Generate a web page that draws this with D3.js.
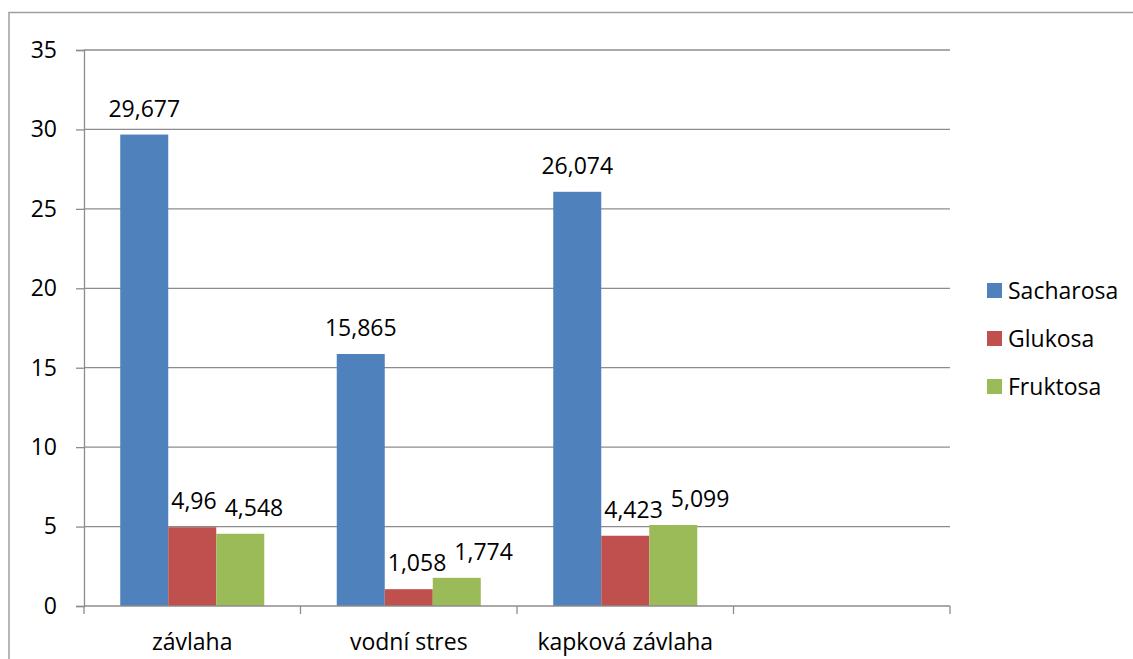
<!DOCTYPE html>
<html>
<head>
<meta charset="utf-8">
<script src="https://cdn.jsdelivr.net/npm/d3@7"></script>
<style>
  body { margin: 0; background: #fff; }
  svg text { font-family: "Open Sans", "Noto Sans", sans-serif; fill: #000; }
</style>
</head>
<body>
<svg id="chart" width="1133" height="659"></svg>
<script>
var categories = ["závlaha", "vodní stres", "kapková závlaha", ""];
var seriesNames = ["Sacharosa", "Glukosa", "Fruktosa"];
var sacharosa = [29.677, 15.865, 26.074];
var glukosa = [4.96, 1.058, 4.423];
var fruktosa = [4.548, 1.774, 5.099];
var yTicks = [0, 5, 10, 15, 20, 25, 30, 35];
var colors = ["#4F81BD", "#C0504D", "#9BBB59"];

var seriesValues = [sacharosa, glukosa, fruktosa];
var fontSize = "23px";
var svg = d3.select("#chart");

// outer chart frame (runs off the page on the right and bottom)
svg.append("rect")
    .attr("x", 9)
    .attr("y", 12.5)
    .attr("width", 1200)
    .attr("height", 800)
    .attr("fill", "none")
    .attr("stroke", "#a0a0a0")
    .attr("stroke-width", 1.5);

var x = d3.scaleBand()
    .domain(categories)
    .range([84, 950])
    .padding(0);

var x1 = d3.scaleBand()
    .domain(seriesNames)
    .range([0, x.bandwidth()])
    .paddingInner(0)
    .paddingOuter(0.755);

var y = d3.scaleLinear()
    .domain([0, 35])
    .range([606, 50]);

// gridlines
svg.append("g")
    .selectAll("line")
    .data(yTicks.slice(1))
    .enter()
    .append("line")
    .attr("x1", 84)
    .attr("x2", 950)
    .attr("y1", function (d) { return y(d); })
    .attr("y2", function (d) { return y(d); })
    .attr("stroke", "#8c8c8c")
    .attr("stroke-width", 1.3);

// y axis
var yAxis = d3.axisLeft(y)
    .tickValues(yTicks)
    .tickSize(8)
    .tickPadding(19)
    .tickFormat(d3.format("d"));

var yg = svg.append("g")
    .attr("transform", "translate(84,0)")
    .call(yAxis);
yg.select(".domain").attr("stroke", "#8c8c8c").attr("stroke-width", 1.3);
yg.selectAll(".tick line").attr("stroke", "#8c8c8c").attr("stroke-width", 1.3);
yg.selectAll(".tick text")
    .style("font-size", fontSize)
    .style("font-family", "'Open Sans', sans-serif")
    .attr("fill", "#000");

// bars
var barData = [];
seriesNames.forEach(function (s, si) {
    seriesValues[si].forEach(function (v, ci) {
        barData.push({ series: s, si: si, cat: categories[ci], ci: ci, value: v });
    });
});

svg.append("g")
    .selectAll("rect")
    .data(barData)
    .enter()
    .append("rect")
    .attr("fill", function (d) { return colors[d.si]; })
    .attr("x", function (d) { return x(d.cat) + x1(d.series); })
    .attr("width", x1.bandwidth())
    .attr("y", function (d) { return y(d.value); })
    .attr("height", function (d) { return y(0) - y(d.value); });

// data labels, centred over the bar, pushed right when they would hit
// the previous bar or label of the same group (like Excel does)
var labels = svg.append("g")
    .selectAll("text")
    .data(barData)
    .enter()
    .append("text")
    .attr("y", function (d) { return y(d.value) - 18; })
    .style("font-size", fontSize)
    .text(function (d) { return String(d.value).replace(".", ","); });

labels.each(function (d) {
    d.w = this.getComputedTextLength();
    d.left = x(d.cat) + x1(d.series) + x1.bandwidth() / 2 - d.w / 2;
});
categories.forEach(function (c) {
    var inCat = barData.filter(function (d) { return d.cat === c; });
    inCat.sort(function (a, b) { return a.si - b.si; });
    for (var i = 1; i < inCat.length; i++) {
        var prev = inCat[i - 1];
        var cur = inCat[i];
        var barRight = x(prev.cat) + x1(prev.series) + x1.bandwidth();
        if (prev.value > cur.value + 1.2) cur.left = Math.max(cur.left, barRight + 3);
        if (Math.abs(y(prev.value) - y(cur.value)) < 26) {
            cur.left = Math.max(cur.left, prev.left + prev.w + 8);
        }
    }
});
labels.attr("x", function (d) { return d.left; });

// x axis line and ticks at the band edges
var edges = categories.map(function (c) { return x(c); }).concat([x.range()[1]]);
svg.append("line")
    .attr("x1", 84)
    .attr("x2", 950)
    .attr("y1", y(0))
    .attr("y2", y(0))
    .attr("stroke", "#8c8c8c")
    .attr("stroke-width", 1.3);

svg.append("g")
    .selectAll("line")
    .data(edges)
    .enter()
    .append("line")
    .attr("x1", function (d) { return d; })
    .attr("x2", function (d) { return d; })
    .attr("y1", y(0))
    .attr("y2", y(0) + 8)
    .attr("stroke", "#8c8c8c")
    .attr("stroke-width", 1.3);

svg.append("g")
    .selectAll("text")
    .data(categories)
    .enter()
    .append("text")
    .attr("x", function (d) { return x(d) + x.bandwidth() / 2; })
    .attr("y", 650)
    .attr("text-anchor", "middle")
    .style("font-size", fontSize)
    .text(function (d) { return d; });

// legend
var legend = svg.append("g")
    .selectAll("g")
    .data(seriesNames)
    .enter()
    .append("g")
    .attr("transform", function (d, i) { return "translate(987," + (283 + i * 48) + ")"; });

legend.append("rect")
    .attr("width", 15)
    .attr("height", 15)
    .attr("fill", function (d, i) { return colors[i]; });

legend.append("text")
    .attr("x", 21)
    .attr("y", 16)
    .style("font-size", fontSize)
    .text(function (d) { return d; });
</script>
</body>
</html>
